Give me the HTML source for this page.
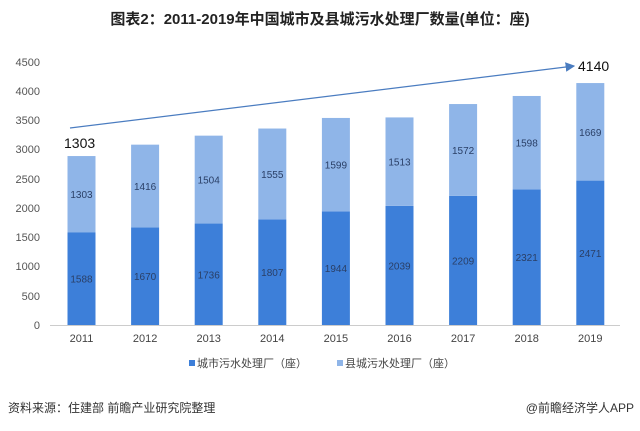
<!DOCTYPE html>
<html><head><meta charset="utf-8"><style>
body{margin:0;background:#fff;}
svg text{font-family:"Liberation Sans","Noto Sans CJK SC",sans-serif;}
</style></head><body>
<svg width="640" height="426" viewBox="0 0 640 426" xmlns="http://www.w3.org/2000/svg">
<text x="320" y="24" text-anchor="middle" font-size="15" font-weight="bold" fill="#222">图表2：2011-2019年中国城市及县城污水处理厂数量(单位：座)</text>
<g font-size="11" fill="#555" text-anchor="end">
<text x="40" y="329">0</text><text x="40" y="300">500</text><text x="40" y="270">1000</text><text x="40" y="241">1500</text><text x="40" y="212">2000</text><text x="40" y="183">2500</text><text x="40" y="153">3000</text><text x="40" y="124">3500</text><text x="40" y="95">4000</text><text x="40" y="66">4500</text>
</g>
<line x1="50" y1="325.5" x2="620" y2="325.5" stroke="#ccc"/>
<g id="bars"></g>
<defs><marker id="ar" markerWidth="8" markerHeight="8" refX="7" refY="4" orient="auto"><path d="M0,0L8,4L0,8z" fill="#4a7cc0"/></marker></defs>
<line x1="70" y1="128" x2="574" y2="66" stroke="#4a7cc0" stroke-width="1.2" marker-end="url(#ar)"/>
<text x="64" y="148" font-size="14" fill="#111">1303</text>
<text x="578" y="71" font-size="14" fill="#111">4140</text>
<rect x="189" y="360" width="6" height="6" fill="#3d7fd9"/>
<text x="197" y="367" font-size="11" fill="#444">城市污水处理厂（座）</text>
<rect x="337" y="360" width="6" height="6" fill="#8fb5e8"/>
<text x="345" y="367" font-size="11" fill="#444">县城污水处理厂（座）</text>
<text x="8" y="412" font-size="12" fill="#333">资料来源：住建部 前瞻产业研究院整理</text>
<text x="634" y="412" font-size="12" fill="#333" text-anchor="end">@前瞻经济学人APP</text>
</svg>
<script>
var c=[1588,1670,1736,1807,1944,2039,2209,2321,2471],t=[1303,1416,1504,1555,1599,1513,1572,1598,1669];
var s=0.05844,g=document.getElementById('bars'),h='';
for(var i=0;i<9;i++){var cx=81.5+i*63.6,w=28,x=cx-w/2,h1=c[i]*s,h2=t[i]*s,y1=325-h1,y2=y1-h2;
h+='<rect x="'+x+'" y="'+y1+'" width="'+w+'" height="'+h1+'" fill="#3d7fd9"/>';
h+='<rect x="'+x+'" y="'+y2+'" width="'+w+'" height="'+h2+'" fill="#8fb5e8"/>';
h+='<text x="'+cx+'" y="'+(y1+h1/2+4)+'" font-size="10" fill="#2a3f66" text-anchor="middle">'+c[i]+'</text>';
h+='<text x="'+cx+'" y="'+(y2+h2/2+4)+'" font-size="10" fill="#2a3f66" text-anchor="middle">'+t[i]+'</text>';
h+='<text x="'+cx+'" y="342" font-size="11" fill="#444" text-anchor="middle">'+(2011+i)+'</text>';}
g.innerHTML=h;
</script>
</body></html>
